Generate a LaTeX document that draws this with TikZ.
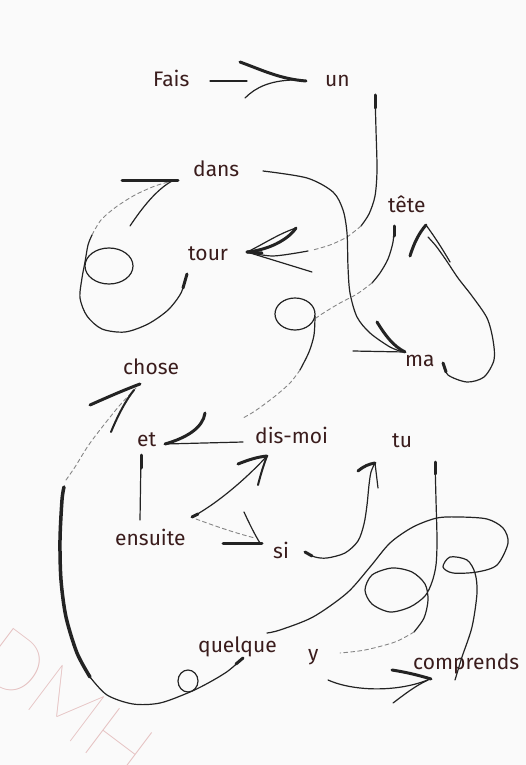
\documentclass[tikz,border=0pt]{standalone}
\usepackage{fontspec}
\setmainfont{Fira Sans}
\IfFontExistsTF{Lato Hairline}{\newfontfamily\wmfont{Lato Hairline}}{%
 \IfFontExistsTF{Lato Thin}{\newfontfamily\wmfont{Lato Thin}}{%
  \IfFontExistsTF{Lato Light}{\newfontfamily\wmfont{Lato Light}}{%
   \newfontfamily\wmfont{Fira Sans}}}}
\definecolor{inkc}{RGB}{35,35,35}
\definecolor{wordc}{RGB}{58,28,28}
\definecolor{wmc}{RGB}{228,190,190}
\definecolor{bgc}{RGB}{250,250,250}
\tikzset{
  ink/.style={draw=inkc, line width=1.2pt, line cap=round, line join=round},
  heavy/.style={draw=inkc, line width=3pt, line cap=round},
  med/.style={draw=inkc, line width=2pt, line cap=round},
  faint/.style={draw=inkc!55, line width=0.9pt, dash pattern=on 4pt off 3pt, line cap=round},
  word/.style={text=wordc, font=\fontsize{21}{25}\selectfont, inner sep=0pt, anchor=base west},
}
\begin{document}
\begin{tikzpicture}[x=1pt,y=-1pt]
\fill[bgc] (0,0) rectangle (526,765);
\useasboundingbox (0,0) rectangle (526,765);
% watermark
\node[text=wmc, font=\wmfont\fontsize{80}{80}\selectfont, rotate=-37, inner sep=0pt] (wm) at (66,703) {DMH};
% words
\node[word] (fais) at (153,87) {Fais};
\node[word] (un) at (325,87) {un};
\node[word] (dans) at (193,176) {dans};
\node[word] (tete) at (388,212) {tête};
\node[word] (tour) at (188,260) {tour};
\node[word] (chose) at (123,374) {chose};
\node[word] (ma) at (405,366) {ma};
\node[word] (et) at (137,446) {et};
\node[word] (dismoi) at (255,443) {dis-moi};
\node[word] (tu) at (392,447) {tu};
\node[word] (ensuite) at (115,545) {ensuite};
\node[word] (si) at (273,558) {si};
\node[word] (quelque) at (198,652) {quelque};
\node[word] (y) at (308,660) {y};
\node[word] (comprends) at (413,669) {comprends};
% Fais -> un
\draw[ink] (210,81) -- (247,81);
\draw[heavy] (240,62) .. controls (262,70) and (280,79) .. (306,81);
\draw[ink] (245,98) .. controls (256,87) and (270,81) .. (292,80);
% un -> tour
\draw[ink] plot[smooth] coordinates {(375,95) (376,130) (377,170) (375,196) (369,214) (361,226)};
\draw[heavy] (375,95) -- (375,108);
\draw[faint] plot[smooth] coordinates {(361,226) (347,237) (330,245) (313,250)};
\draw[heavy] (296,228) .. controls (288,240) and (268,250) .. (247,252);
\draw[ink] (296,228) .. controls (278,234) and (262,245) .. (247,252);
\draw[ink] plot[smooth] coordinates {(247,252) (273,256) (308,251)};
\draw[ink] (247,252) -- (312,272);
\draw[heavy] (247,252) -- (262,253);
% tour -> dans
\draw[ink] plot[smooth] coordinates {(187,274) (181,293) (168,310) (148,324) (125,332) (102,329) (87,316) (80,298) (82,278) (85,262) (88,245) (92,235)};
\draw[heavy] (187,274) -- (183,288);
\draw[ink] (109,266) ellipse [x radius=24, y radius=18];
\draw[faint] plot[smooth] coordinates {(92,235) (101,220) (116,207) (135,195) (155,186) (172,181)};
\draw[heavy] (122,180) -- (178,180);
\draw[ink] (130,226) .. controls (142,208) and (156,190) .. (172,181);
% dans -> ma
\draw[ink] plot[smooth] coordinates {(263,171) (307,178) (333,192) (343,210) (347,233) (348,267) (350,293) (357,317) (370,333) (390,347) (403,352)};
\draw[heavy] (377,322) .. controls (385,335) and (393,346) .. (405,352);
\draw[ink] (353,351) -- (405,352);
% ma -> tete
\draw[ink] plot[smooth] coordinates {(443,363) (448,375) (467,382) (484,377) (494,360) (493,340) (487,318) (472,296) (458,278) (446,260) (436,246) (428,237)};
\draw[heavy] (443,363) -- (446,372);
\draw[heavy] (410,256) .. controls (414,243) and (419,233) .. (426,225);
\draw[ink] (426,225) .. controls (434,236) and (442,248) .. (450,262);
% tete -> et
\draw[ink] plot[smooth] coordinates {(394,226) (393,242) (388,259) (380,273) (372,283)};
\draw[heavy] (394,226) -- (394,236);
\draw[faint] plot[smooth] coordinates {(372,283) (357,294) (340,303) (325,312) (316,318)};
\draw[ink] (295,314) ellipse [x radius=20, y radius=16];
\draw[ink] plot[smooth] coordinates {(315,316) (314,335) (309,352) (300,370)};
\draw[faint] plot[smooth] coordinates {(300,370) (290,383) (274,397) (255,411) (243,418)};
\draw[heavy] (205,413) .. controls (203,428) and (186,438) .. (165,444);
\draw[ink] (165,444) -- (243,442);
% et - ensuite
\draw[ink] (141,455) -- (140,520);
\draw[heavy] (141,455) -- (141,468);
% ensuite -> dis-moi
\draw[ink] (192,517) .. controls (215,505) and (245,480) .. (267,456);
\draw[heavy] (192,517) -- (198,514);
\draw[heavy] (238,464) .. controls (248,460) and (257,457) .. (267,456);
\draw[med] (258,485) .. controls (261,473) and (264,464) .. (267,456);
% ensuite -> si
\draw[faint] (196,519) .. controls (215,526) and (235,533) .. (255,538);
\draw[heavy] (223,543) -- (262,543);
\draw[ink] (244,512) .. controls (250,525) and (255,535) .. (260,543);
% si -> tu
\draw[ink] plot[smooth] coordinates {(305,552) (315,557) (327,558) (345,553) (358,541) (364,524) (367,505) (369,485) (371,472) (375,463)};
\draw[heavy] (305,552) -- (312,556);
\draw[heavy] (358,471) .. controls (364,466) and (369,464) .. (375,463);
\draw[ink] (375,463) -- (378,488);
% tu -> y
\draw[ink] plot[smooth] coordinates {(435,462) (436,500) (437,540) (436,565) (432,582) (425,596) (410,607) (390,612) (372,604) (365,590) (372,575) (392,568) (412,572) (425,584) (428,600) (424,618) (414,632)};
\draw[heavy] (435,462) -- (435,474);
\draw[faint] plot[smooth] coordinates {(414,632) (395,642) (365,650) (340,653)};
% y -> comprends
\draw[ink] (328,680) .. controls (355,692) and (400,692) .. (430,679);
\draw[heavy] (392,670) .. controls (405,672) and (418,675) .. (431,679);
\draw[ink] (393,703) .. controls (405,694) and (415,686) .. (428,680);
% comprends -> quelque
\draw[ink] plot[smooth] coordinates {(455,680) (462,657) (472,627) (477,593) (475,573) (467,560) (450,557) (443,567) (453,573) (477,572) (497,565) (508,543) (503,528) (487,519) (460,517) (437,518) (413,527) (390,543) (370,567) (347,593) (313,617) (280,630) (267,633)};
% quelque -> chose
\draw[ink] plot[smooth] coordinates {(243,658) (228,671) (210,682) (190,692) (160,703) (133,704) (107,695) (90,677)};
\draw[heavy] (243,658) -- (236,664);
\draw[ink] (188,681) ellipse [x radius=10, y radius=11];
\draw[draw=inkc, line width=3.5pt, line cap=round] plot[smooth] coordinates {(90,677) (77,653) (66,617) (61,580) (60,540) (62,500) (64,487)};
\draw[faint] plot[smooth] coordinates {(66,480) (75,467) (88,446) (103,426) (120,405) (136,388)};
\draw[heavy] (90,405) .. controls (108,397) and (124,390) .. (140,384);
\draw[med] (111,432) .. controls (118,415) and (126,400) .. (134,390);
\end{tikzpicture}
\end{document}
